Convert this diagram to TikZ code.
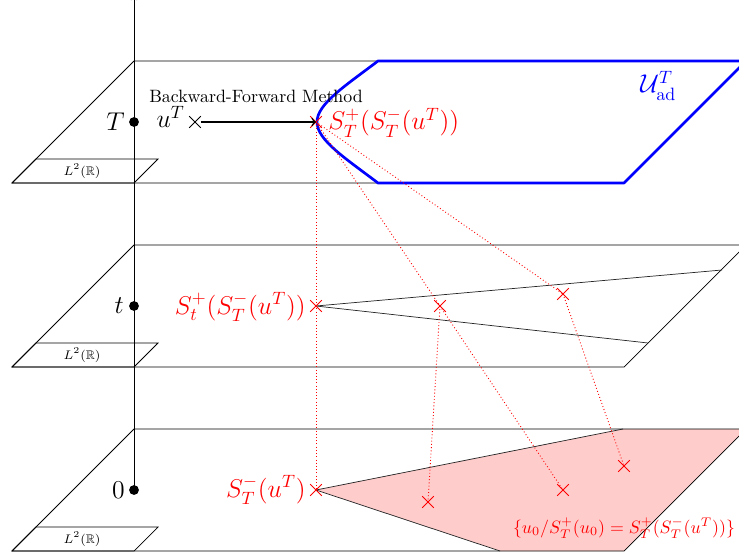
\documentclass[tikz,border=0pt]{standalone}
\usepackage{amssymb}
\usetikzlibrary{shapes.misc}
\begin{document}
\begin{tikzpicture}[x=0.56pt,y=-0.56pt,
  plane/.style={draw=black, line width=0.4pt},
  xmark/.style={cross out, draw=red, minimum size=6pt, inner sep=0pt, line width=0.5pt},
  xblack/.style={xmark, draw=black},
  dotm/.style={circle, fill=black, inner sep=0pt, minimum size=5.5pt},
  redlab/.style={text=red, inner sep=0pt, font=\Large},
  blacklab/.style={inner sep=0pt, font=\Large},
  link/.style={red, line width=0.5pt, dash pattern=on 0.5pt off 1.3pt},
  wedge/.style={draw=black!85, line width=0.4pt},
  tinylab/.style={font=\scriptsize, inner sep=0pt}]
\useasboundingbox (0,0) rectangle (739,557);
\clip (0,0) rectangle (739,557);

% key points
\coordinate (cu) at (195,122);
\coordinate (cT) at (316,122);
\coordinate (ct1) at (316,306);
\coordinate (ct2) at (440,306);
\coordinate (ct3) at (563,294);
\coordinate (c01) at (316,490);
\coordinate (c02) at (428,502);
\coordinate (c03) at (563,490);
\coordinate (c04) at (624,466);
\coordinate (w1) at (722,270);
\coordinate (w2) at (648,343);
\coordinate (k1) at (623,429);
\coordinate (k2) at (500,551);
\coordinate (k3) at (746,429);
\coordinate (k4) at (624,551);

% pink set at time 0
\fill[red!20] (c01) -- (k1) -- (k3) -- (k4) -- (k2) -- cycle;

% planes
\foreach \yt/\nm in {61/top,245/mid,429/bot}{
  \draw[plane] (12,\yt+122) -- (134,\yt) -- (760,\yt);
  \draw[plane] (12,\yt+122) -- (624,\yt+122) -- (746,\yt);
  \draw[plane] (12,\yt+122) -- (134,\yt+122) -- (158,\yt+98) -- (36,\yt+98) -- cycle;
  \node[tinylab] (L2\nm) at (82,\yt+110) {$L^2(\mathbb{R})$};
}

% wedges
\draw[wedge] (ct1) -- (w1);
\draw[wedge] (ct1) -- (w2);
\draw[wedge] (c01) -- (k1);
\draw[wedge] (c01) -- (k2);

% admissible set
\draw[blue, line width=1.5pt, line join=round] (378,183) -- (624,183) -- (746,61) -- (378,61)
  .. controls (345,86) and (317,104) .. (317,122)
  .. controls (317,140) and (345,158) .. cycle;

% dotted links
\draw[link] (cT) -- (ct1) -- (c01);
\draw[link] (cT) -- (ct2);
\draw[link] (cT) -- (ct3);
\draw[link] (ct2) -- (c02);
\draw[link] (ct2) -- (c03);
\draw[link] (ct3) -- (c04);

% time axis
\node[dotm] (dT) at (134,122) {};
\node[dotm] (dt) at (134,306) {};
\node[dotm] (d0) at (134,490) {};
\coordinate (axtop) at (134,-3);
\draw[->] (d0.center) -- (axtop);

% crosses
\node[xblack] (xu) at (cu) {};
\node[xmark] (xT) at (cT) {};
\node[xmark] (xt1) at (ct1) {};
\node[xmark] (xt2) at (ct2) {};
\node[xmark] (xt3) at (ct3) {};
\node[xmark] (x01) at (c01) {};
\node[xmark] (x02) at (c02) {};
\node[xmark] (x03) at (c03) {};
\node[xmark] (x04) at (c04) {};

% arrow
\draw[thick,->] (xu) -- (xT.center);

% labels
\node[blacklab, anchor=base east] (labT) at (125,131) {$T$};
\node[blacklab, anchor=base east] (labt) at (124,313) {$t$};
\node[blacklab, anchor=base east] (lab0) at (125,498) {$0$};
\node[blacklab, anchor=base east] (labu) at (185,128) {$u^T$};
\node[redlab, anchor=base west] (labST) at (328,130) {$S_T^+(S_T^-(u^T))$};
\node[redlab, anchor=base east] (labSt) at (306,314) {$S_t^+(S_T^-(u^T))$};
\node[redlab, anchor=base east] (labS0) at (306,497) {$S_T^-(u^T)$};
\node[text=red, anchor=base, inner sep=0pt] (labset) at (624,533) {$\{u_0/S_T^+(u_0)=S_T^+(S_T^-(u^T))\}$};
\node[anchor=base, inner sep=0pt] (labBF) at (256,103) {Backward-Forward Method};
\node[text=blue, font=\Large, anchor=base west, inner sep=0pt] (labU) at (640,93) {$\mathcal{U}_{\mathrm{ad}}^T$};
\end{tikzpicture}
\end{document}
